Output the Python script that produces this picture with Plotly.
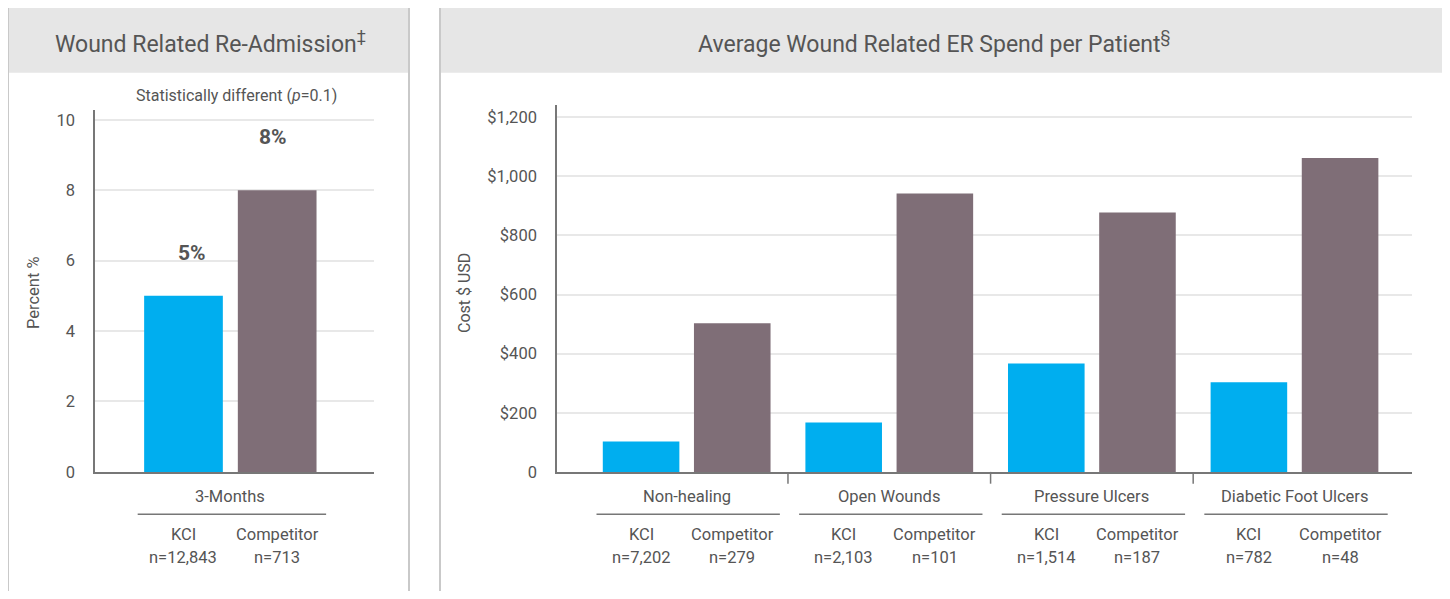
import plotly.graph_objects as go

# ---------------- data ----------------
left_title = "Wound Related Re-Admission<sup>‡</sup>"
left_note = "Statistically different (<i>p</i>=0.1)"
left_categories = ["3-Months"]
left_kci = [5]
left_comp = [8]
left_kci_n = ["n=12,843"]
left_comp_n = ["n=713"]
left_yticks = [0, 2, 4, 6, 8, 10]

right_title = "Average Wound Related ER Spend per Patient<sup>§</sup>"
right_categories = ["Non-healing", "Open Wounds", "Pressure Ulcers", "Diabetic Foot Ulcers"]
right_kci = [103, 167, 367, 303]
right_comp = [503, 942, 877, 1062]
right_kci_n = ["n=7,202", "n=2,103", "n=1,514", "n=782"]
right_comp_n = ["n=279", "n=101", "n=187", "n=48"]
right_yticks = [0, 200, 400, 600, 800, 1000, 1200]
right_yticklabels = ["0", "$200", "$400", "$600", "$800", "$1,000", "$1,200"]

series_names = ["KCI", "Competitor"]
colors = ["#00AEEF", "#7F6E77"]

# ---------------- layout constants ----------------
OFF = 8                      # page body margin
W, H = 1450 - OFF, 599 - 2 * OFF
FONT = "Roboto"
TXT = "#555555"
BORDER = "#c9c9c9"
HEADER = "#e6e6e6"
BARGAP = 0.1
GROUPGAP = 0.16


def px(x):
    return (x - OFF) / W


def py(y):
    return 1 - (y - OFF) / H


fig = go.Figure()

fig.add_trace(go.Bar(x=left_categories, y=left_kci, name=series_names[0],
                     marker=dict(color=colors[0], line=dict(width=0)),
                     xaxis="x", yaxis="y", showlegend=False, hoverinfo="skip"))
fig.add_trace(go.Bar(x=left_categories, y=left_comp, name=series_names[1],
                     marker=dict(color=colors[1], line=dict(width=0)),
                     xaxis="x", yaxis="y", showlegend=False, hoverinfo="skip"))
fig.add_trace(go.Bar(x=right_categories, y=right_kci, name=series_names[0],
                     marker=dict(color=colors[0], line=dict(width=0)),
                     xaxis="x2", yaxis="y2", showlegend=False, hoverinfo="skip"))
fig.add_trace(go.Bar(x=right_categories, y=right_comp, name=series_names[1],
                     marker=dict(color=colors[1], line=dict(width=0)),
                     xaxis="x2", yaxis="y2", showlegend=False, hoverinfo="skip"))

shapes = []
annotations = []


def ann(text, x, y, xref="paper", yref="paper", size=16.5, **kw):
    d = dict(text=text, x=x, y=y, xref=xref, yref=yref, showarrow=False,
             xanchor="center", yanchor="middle",
             font=dict(family=FONT, size=size, color=TXT))
    d.update(kw)
    annotations.append(d)


# panels (border + header)
for x0, x1 in [(8, 409), (440, 1446)]:
    shapes.append(dict(type="rect", xref="paper", yref="paper",
                       x0=px(x0), x1=px(x1), y0=py(74), y1=py(7),
                       fillcolor=HEADER, line=dict(width=0), layer="below"))
    shapes.append(dict(type="path", xref="paper", yref="paper",
                       path=f"M {px(x0)} {py(H + 40)} L {px(x0)} {py(7)} L {px(x1)} {py(7)} L {px(x1)} {py(H + 40)}",
                       line=dict(color=BORDER, width=2), layer="above"))

ann(left_title, px(210), py(43), size=23)
ann(right_title, px(934), py(43), size=23)
ann(left_note, px(236), py(97), size=16)

ann("Percent %", px(33), py(298), size=16.5, textangle=-90)
ann("Cost $ USD", px(464), py(298), size=16, textangle=-90)

half = (1 - BARGAP) / 4


def add_group_labels(xref, cats, kn, cn, kvals, cvals, value_labels=False):
    yref = "y" if xref == "x" else "y2"
    for i, c in enumerate(cats):
        ann(c, i, py(505), xref=xref)
        shapes.append(dict(type="line", xref=xref, yref="paper",
                           x0=i - 2 * half + 0.005, x1=i + 2 * half + 0.01, y0=py(523), y1=py(523),
                           line=dict(color="#777777", width=1.5)))
        for off, name, n in [(-half, series_names[0], kn[i]), (half, series_names[1], cn[i])]:
            ann(name, i + off, py(544), xref=xref)
            ann(n, i + off, py(567), xref=xref)
        if value_labels:
            ann(f"<b>{kvals[i]}%</b>", i - half, kvals[i], xref=xref, yref=yref,
                size=21, yshift=43, xshift=9)
            ann(f"<b>{cvals[i]}%</b>", i + half, cvals[i], xref=xref, yref=yref,
                size=21, yshift=53, xshift=-4)
    for i in range(len(cats) - 1):
        shapes.append(dict(type="line", xref=xref, yref="paper",
                           x0=i + 0.5, x1=i + 0.5, y0=py(480), y1=py(492),
                           line=dict(color="#777777", width=1.5)))


add_group_labels("x", left_categories, left_kci_n, left_comp_n, left_kci, left_comp, value_labels=True)
add_group_labels("x2", right_categories, right_kci_n, right_comp_n, right_kci, right_comp)

axis_common = dict(showgrid=False, zeroline=False, showline=True, linecolor="#777777", linewidth=1.5,
                   ticks="", showticklabels=False, fixedrange=True)
yaxis_common = dict(showgrid=True, gridcolor="#e8e8e8", gridwidth=1.5, zeroline=False, showline=True,
                    linecolor="#777777", linewidth=1.5, ticks="", fixedrange=True,
                    tickfont=dict(family=FONT, size=16.5, color=TXT), ticklabelstandoff=15)

fig.update_layout(
    width=W, height=H,
    margin=dict(l=0, r=0, t=0, b=0),
    paper_bgcolor="white", plot_bgcolor="white",
    barmode="group", bargap=BARGAP, bargroupgap=GROUPGAP,
    showlegend=False,
    xaxis=dict(domain=[px(95), px(374)], range=[-0.65, 0.69], anchor="y", **axis_common),
    yaxis=dict(domain=[py(480), py(112)], range=[0, 10.27], anchor="x",
               tickvals=left_yticks, ticktext=[str(v) for v in left_yticks], **yaxis_common),
    xaxis2=dict(domain=[px(557), px(1412)], range=[-0.64, 3.58], anchor="y2", **axis_common),
    yaxis2=dict(domain=[py(480), py(107)], range=[0, 1240], anchor="x2",
                tickvals=right_yticks, ticktext=right_yticklabels, **yaxis_common),
    shapes=shapes,
    annotations=annotations,
)

fig.write_html("out.html")
